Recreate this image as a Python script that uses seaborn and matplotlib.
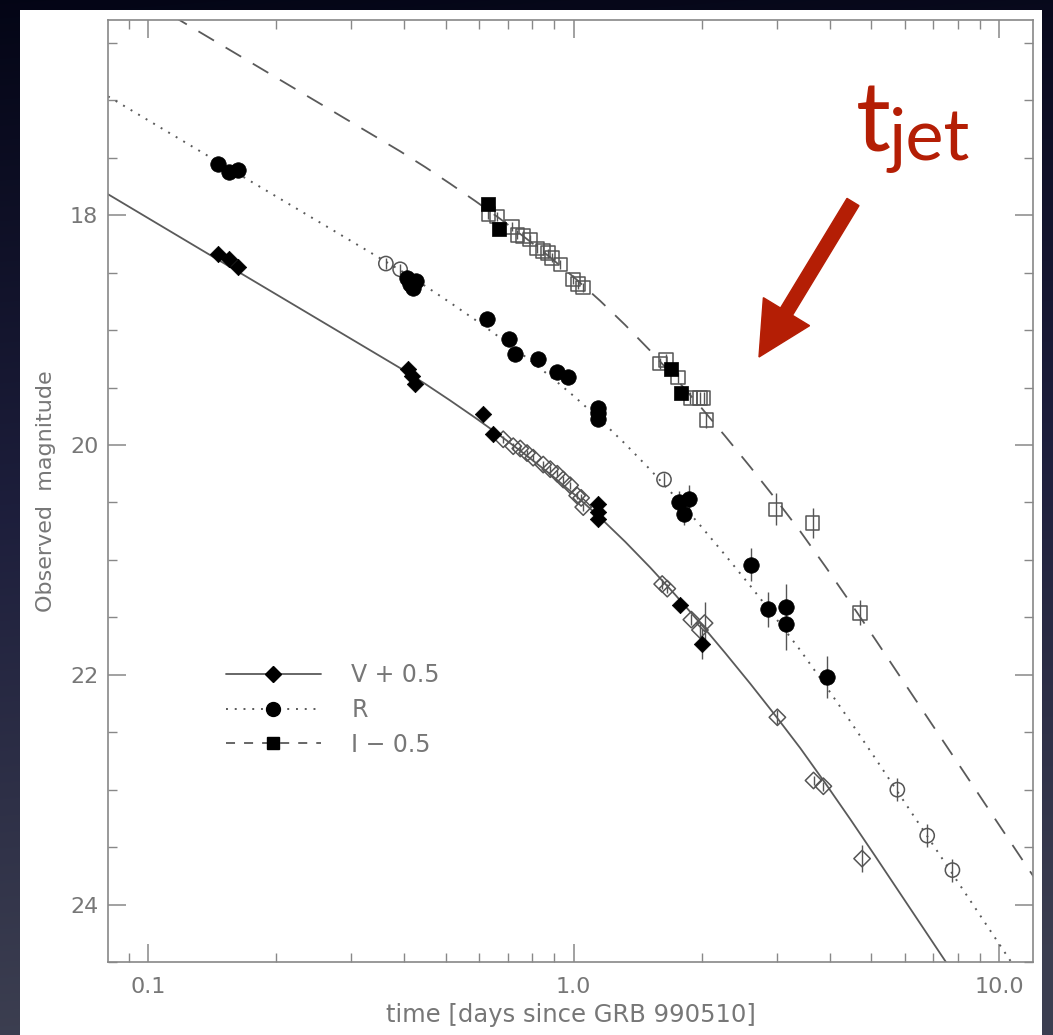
import numpy as np
import pandas as pd
import matplotlib
matplotlib.use("Agg")
import matplotlib.pyplot as plt
import seaborn as sns
from matplotlib.lines import Line2D
from matplotlib.patches import FancyArrow, Rectangle
from matplotlib.ticker import LogLocator, FixedLocator, FixedFormatter, MultipleLocator, NullFormatter

# ---------------- data ----------------
# model curves (days, magnitude)
curve_t = [0.08054, 0.10109, 0.13246, 0.17366, 0.22763, 0.29836, 0.39109, 0.44771,
           0.51256, 0.58682, 0.67180, 0.76917, 0.88058, 1.00816, 1.15418, 1.32139,
           1.51272, 1.73180, 1.98268, 2.26979, 2.59903, 2.97550, 3.40650, 3.90010,
           4.46500, 5.11200, 5.85234, 6.70000, 7.67082, 8.78200, 10.0543, 11.5111, 13.1809]
V_curve = [17.817, 18.035, 18.294, 18.553, 18.812, 19.071, 19.330, 19.467,
           19.612, 19.762, 19.918, 20.082, 20.253, 20.436, 20.632, 20.842,
           21.066, 21.303, 21.551, 21.810, 22.077, 22.353, 22.638, 22.943,
           23.257, 23.579, 23.905, 24.231, 24.557, 24.883, 25.210, 25.536, 25.862]
R_curve = [16.965, 17.183, 17.442, 17.701, 17.960, 18.219, 18.478, 18.615,
           18.760, 18.910, 19.066, 19.230, 19.401, 19.584, 19.780, 19.990,
           20.214, 20.451, 20.699, 20.958, 21.225, 21.501, 21.786, 22.091,
           22.405, 22.727, 23.053, 23.379, 23.705, 24.031, 24.358, 24.684, 25.010]
I_curve = [15.930, 16.148, 16.407, 16.666, 16.925, 17.184, 17.443, 17.580,
           17.725, 17.875, 18.031, 18.195, 18.366, 18.549, 18.745, 18.955,
           19.179, 19.416, 19.664, 19.923, 20.190, 20.466, 20.751, 21.056,
           21.370, 21.692, 22.018, 22.344, 22.670, 22.996, 23.323, 23.649, 23.975]

# V + 0.5, filled diamonds
Vf_t = [0.146, 0.155, 0.163, 0.408, 0.417, 0.424, 0.613, 0.647, 1.142, 1.142, 1.142, 1.78, 2.00]
Vf_m = [18.34, 18.38, 18.45, 19.34, 19.40, 19.47, 19.73, 19.90, 20.51, 20.58, 20.64, 21.39, 21.73]
Vf_e = [0.02, 0.02, 0.02, 0.03, 0.03, 0.03, 0.03, 0.03, 0.04, 0.04, 0.04, 0.05, 0.13]
# V + 0.5, open diamonds
Vo_t = [0.683, 0.721, 0.749, 0.777, 0.803, 0.848, 0.881, 0.915, 0.945, 0.981, 1.019,
        1.041, 1.053, 1.614, 1.659, 1.89, 1.98, 2.03, 3.01, 3.66, 3.86, 4.76]
Vo_m = [19.95, 20.01, 20.03, 20.07, 20.11, 20.17, 20.21, 20.25, 20.30, 20.35, 20.44,
        20.46, 20.54, 21.21, 21.25, 21.52, 21.61, 21.55, 22.37, 22.92, 22.97, 23.60]
Vo_e = [0.03, 0.03, 0.03, 0.03, 0.03, 0.03, 0.03, 0.03, 0.03, 0.03, 0.03,
        0.03, 0.03, 0.04, 0.04, 0.05, 0.06, 0.18, 0.06, 0.04, 0.04, 0.12]

# R, filled circles
Rf_t = [0.146, 0.155, 0.163, 0.406, 0.413, 0.420, 0.426, 0.626, 0.705, 0.729, 0.825,
        0.915, 0.971, 1.142, 1.142, 1.142, 1.77, 1.87, 1.82, 2.61, 2.86, 3.16, 3.16, 3.94]
Rf_m = [17.55, 17.62, 17.61, 18.55, 18.60, 18.63, 18.57, 18.90, 19.08, 19.21, 19.25,
        19.36, 19.41, 19.68, 19.72, 19.77, 20.50, 20.47, 20.60, 21.04, 21.43, 21.41, 21.56, 22.02]
Rf_e = [0.02, 0.02, 0.02, 0.03, 0.03, 0.03, 0.03, 0.03, 0.03, 0.03, 0.03,
        0.03, 0.03, 0.04, 0.04, 0.04, 0.10, 0.12, 0.10, 0.14, 0.15, 0.20, 0.22, 0.18]
# R, open circles
Ro_t = [0.362, 0.391, 1.63, 5.76, 6.77, 7.76]
Ro_m = [18.42, 18.47, 20.30, 23.00, 23.40, 23.70]
Ro_e = [0.05, 0.05, 0.06, 0.10, 0.10, 0.10]

# I - 0.5, filled squares
If_t = [0.630, 0.668, 1.69, 1.79]
If_m = [17.90, 18.12, 19.34, 19.55]
If_e = [0.03, 0.03, 0.05, 0.05]
# I - 0.5, open squares
Io_t = [0.630, 0.661, 0.717, 0.737, 0.761, 0.790, 0.821, 0.848, 0.871, 0.890, 0.930,
        0.997, 1.025, 1.053, 1.597, 1.650, 1.76, 1.88, 1.98, 2.02, 2.05, 2.98, 3.64, 4.71]
Io_m = [17.99, 18.01, 18.10, 18.17, 18.18, 18.21, 18.29, 18.31, 18.33, 18.37, 18.43,
        18.56, 18.60, 18.63, 19.29, 19.26, 19.41, 19.59, 19.59, 19.59, 19.78, 20.56, 20.68, 21.46]
Io_e = [0.04, 0.04, 0.04, 0.04, 0.04, 0.04, 0.04, 0.04, 0.04, 0.04, 0.04,
        0.04, 0.04, 0.04, 0.05, 0.05, 0.05, 0.05, 0.05, 0.05, 0.07, 0.14, 0.13, 0.11]

legend_labels = ["V + 0.5", "R", "I \u2212 0.5"]
x_tick_vals = [0.1, 1.0, 10.0]
x_tick_labels = ["0.1", "1.0", "10.0"]
y_tick_vals = [18, 20, 22, 24]

# ---------------- style ----------------
sns.set_theme(style="ticks")
plt.rcParams['font.family'] = ['DejaVu Sans']

W, H = 1053, 1035
fig = plt.figure(figsize=(W / 100, H / 100), dpi=100)

# dark gradient background + white panel
bg = fig.add_axes([0, 0, 1, 1], zorder=-10)
yy = np.linspace(0, 1, H)[:, None, None]
xx = np.linspace(0, 1, W)[None, :, None]
c_top = np.array([0.015, 0.02, 0.085])
c_mid = np.array([0.115, 0.12, 0.235])
c_bot = np.array([0.235, 0.245, 0.315])
f = np.clip(yy * 1.0 + xx * 0.08, 0, 1)
img = np.where(f < 0.5, c_top + (c_mid - c_top) * (f / 0.5),
               c_mid + (c_bot - c_mid) * ((f - 0.5) / 0.5))
bg.imshow(img, extent=(0, W, H, 0), aspect='auto', interpolation='bilinear')
bg.add_patch(Rectangle((20, 10), 1022, 1030, facecolor='white', edgecolor='none'))
bg.set_xlim(0, W)
bg.set_ylim(H, 0)
bg.axis('off')

ax = fig.add_axes([108 / W, 1 - 962 / H, 925 / W, 942 / H])
ax.set_facecolor('white')

LINE_C = '#5a5a5a'
EDGE_C = '#555555'
TXT_C = '#777777'
dotted = (0, (1, 3.5))
dashed = (0, (10, 7.5))

# curves
sns.lineplot(x=curve_t, y=V_curve, ax=ax, color=LINE_C, lw=1.3, linestyle='-',
             sort=False, estimator=None, zorder=2)
sns.lineplot(x=curve_t, y=R_curve, ax=ax, color=LINE_C, lw=1.4, linestyle=dotted,
             sort=False, estimator=None, zorder=2)
sns.lineplot(x=curve_t, y=I_curve, ax=ax, color=LINE_C, lw=1.3, linestyle=dashed,
             sort=False, estimator=None, zorder=2)

# error bars
for tt, mm, ee in [(Vf_t, Vf_m, Vf_e), (Vo_t, Vo_m, Vo_e), (Rf_t, Rf_m, Rf_e),
                   (Ro_t, Ro_m, Ro_e), (If_t, If_m, If_e), (Io_t, Io_m, Io_e)]:
    ax.errorbar(tt, mm, yerr=ee, fmt='none', ecolor=EDGE_C, elinewidth=1.0,
                capsize=0, zorder=3)

# open markers
sns.scatterplot(x=Vo_t, y=Vo_m, ax=ax, marker='D', s=70, facecolor='none',
                edgecolor=EDGE_C, linewidth=1.1, zorder=4, legend=False)
sns.scatterplot(x=Ro_t, y=Ro_m, ax=ax, marker='o', s=105, facecolor='none',
                edgecolor=EDGE_C, linewidth=1.1, zorder=4, legend=False)
sns.scatterplot(x=Io_t, y=Io_m, ax=ax, marker='s', s=95, facecolor='none',
                edgecolor=EDGE_C, linewidth=1.1, zorder=4, legend=False)
# filled markers
sns.scatterplot(x=Vf_t, y=Vf_m, ax=ax, marker='D', s=70, color='black',
                edgecolor='black', linewidth=0.5, zorder=5, legend=False)
sns.scatterplot(x=Rf_t, y=Rf_m, ax=ax, marker='o', s=125, color='black',
                edgecolor='black', linewidth=0.5, zorder=5, legend=False)
sns.scatterplot(x=If_t, y=If_m, ax=ax, marker='s', s=100, color='black',
                edgecolor='black', linewidth=0.5, zorder=5, legend=False)

# axes
ax.set_xscale('log')
ax.set_xlim(0.0805, 12.0)
ax.set_ylim(24.5, 16.3)
ax.xaxis.set_major_locator(FixedLocator(x_tick_vals))
ax.xaxis.set_major_formatter(FixedFormatter(x_tick_labels))
ax.xaxis.set_minor_locator(LogLocator(base=10, subs=np.arange(2, 10)))
ax.xaxis.set_minor_formatter(NullFormatter())
ax.yaxis.set_major_locator(FixedLocator(y_tick_vals))
ax.yaxis.set_minor_locator(MultipleLocator(0.5))

ax.tick_params(which='both', direction='in', top=True, right=True,
               color='#888888', labelcolor=TXT_C, labelsize=16)
ax.tick_params(which='major', length=13, width=1.1)
ax.tick_params(which='minor', length=6.5, width=1.0)
ax.tick_params(axis='x', which='major', pad=11)
ax.tick_params(axis='y', which='major', pad=7)
for sp in ax.spines.values():
    sp.set_color('#888888')
    sp.set_linewidth(1.2)
    sp.set_visible(True)

ax.set_xlabel("time [days since GRB 990510]", fontsize=17.5, color=TXT_C)
ax.set_ylabel("Observed  magnitude", fontsize=16, color=TXT_C)
ax.xaxis.set_label_coords(0.5, -0.043)
ax.yaxis.set_label_coords(-0.056, 0.5)

# legend
handles = [
    Line2D([0], [0], color=LINE_C, lw=1.3, linestyle='-', marker='D', markersize=8,
           markerfacecolor='black', markeredgecolor='black'),
    Line2D([0], [0], color=LINE_C, lw=1.4, linestyle=dotted, marker='o', markersize=10,
           markerfacecolor='black', markeredgecolor='black'),
    Line2D([0], [0], color=LINE_C, lw=1.3, linestyle=(0, (5, 5)), marker='s', markersize=9,
           markerfacecolor='black', markeredgecolor='black'),
]
leg = ax.legend(handles, legend_labels, loc='upper left', bbox_to_anchor=(0.115, 0.3295),
                frameon=False, handlelength=4.0, handletextpad=1.3, labelspacing=0.45,
                fontsize=17, borderpad=0, numpoints=1)
for txt in leg.get_texts():
    txt.set_color(TXT_C)

# t_jet annotation
RED = '#b41e05'
fig.text(8.56, (H - 152) / 100, 't', transform=fig.dpi_scale_trans, fontsize=70,
         color=RED, family=['Lato', 'DejaVu Sans'], va='baseline', ha='left')
fig.text(8.89, (H - 160) / 100, 'jet', transform=fig.dpi_scale_trans, fontsize=52,
         color=RED, family=['Lato', 'DejaVu Sans'], va='baseline', ha='left')
arrow = FancyArrow(8.53, (H - 202) / 100, -0.94, -1.55, width=0.14, head_width=0.54,
                   head_length=0.53, length_includes_head=True, color=RED,
                   transform=fig.dpi_scale_trans, zorder=10)
fig.patches.append(arrow)

fig.savefig("out.png", dpi=100)
